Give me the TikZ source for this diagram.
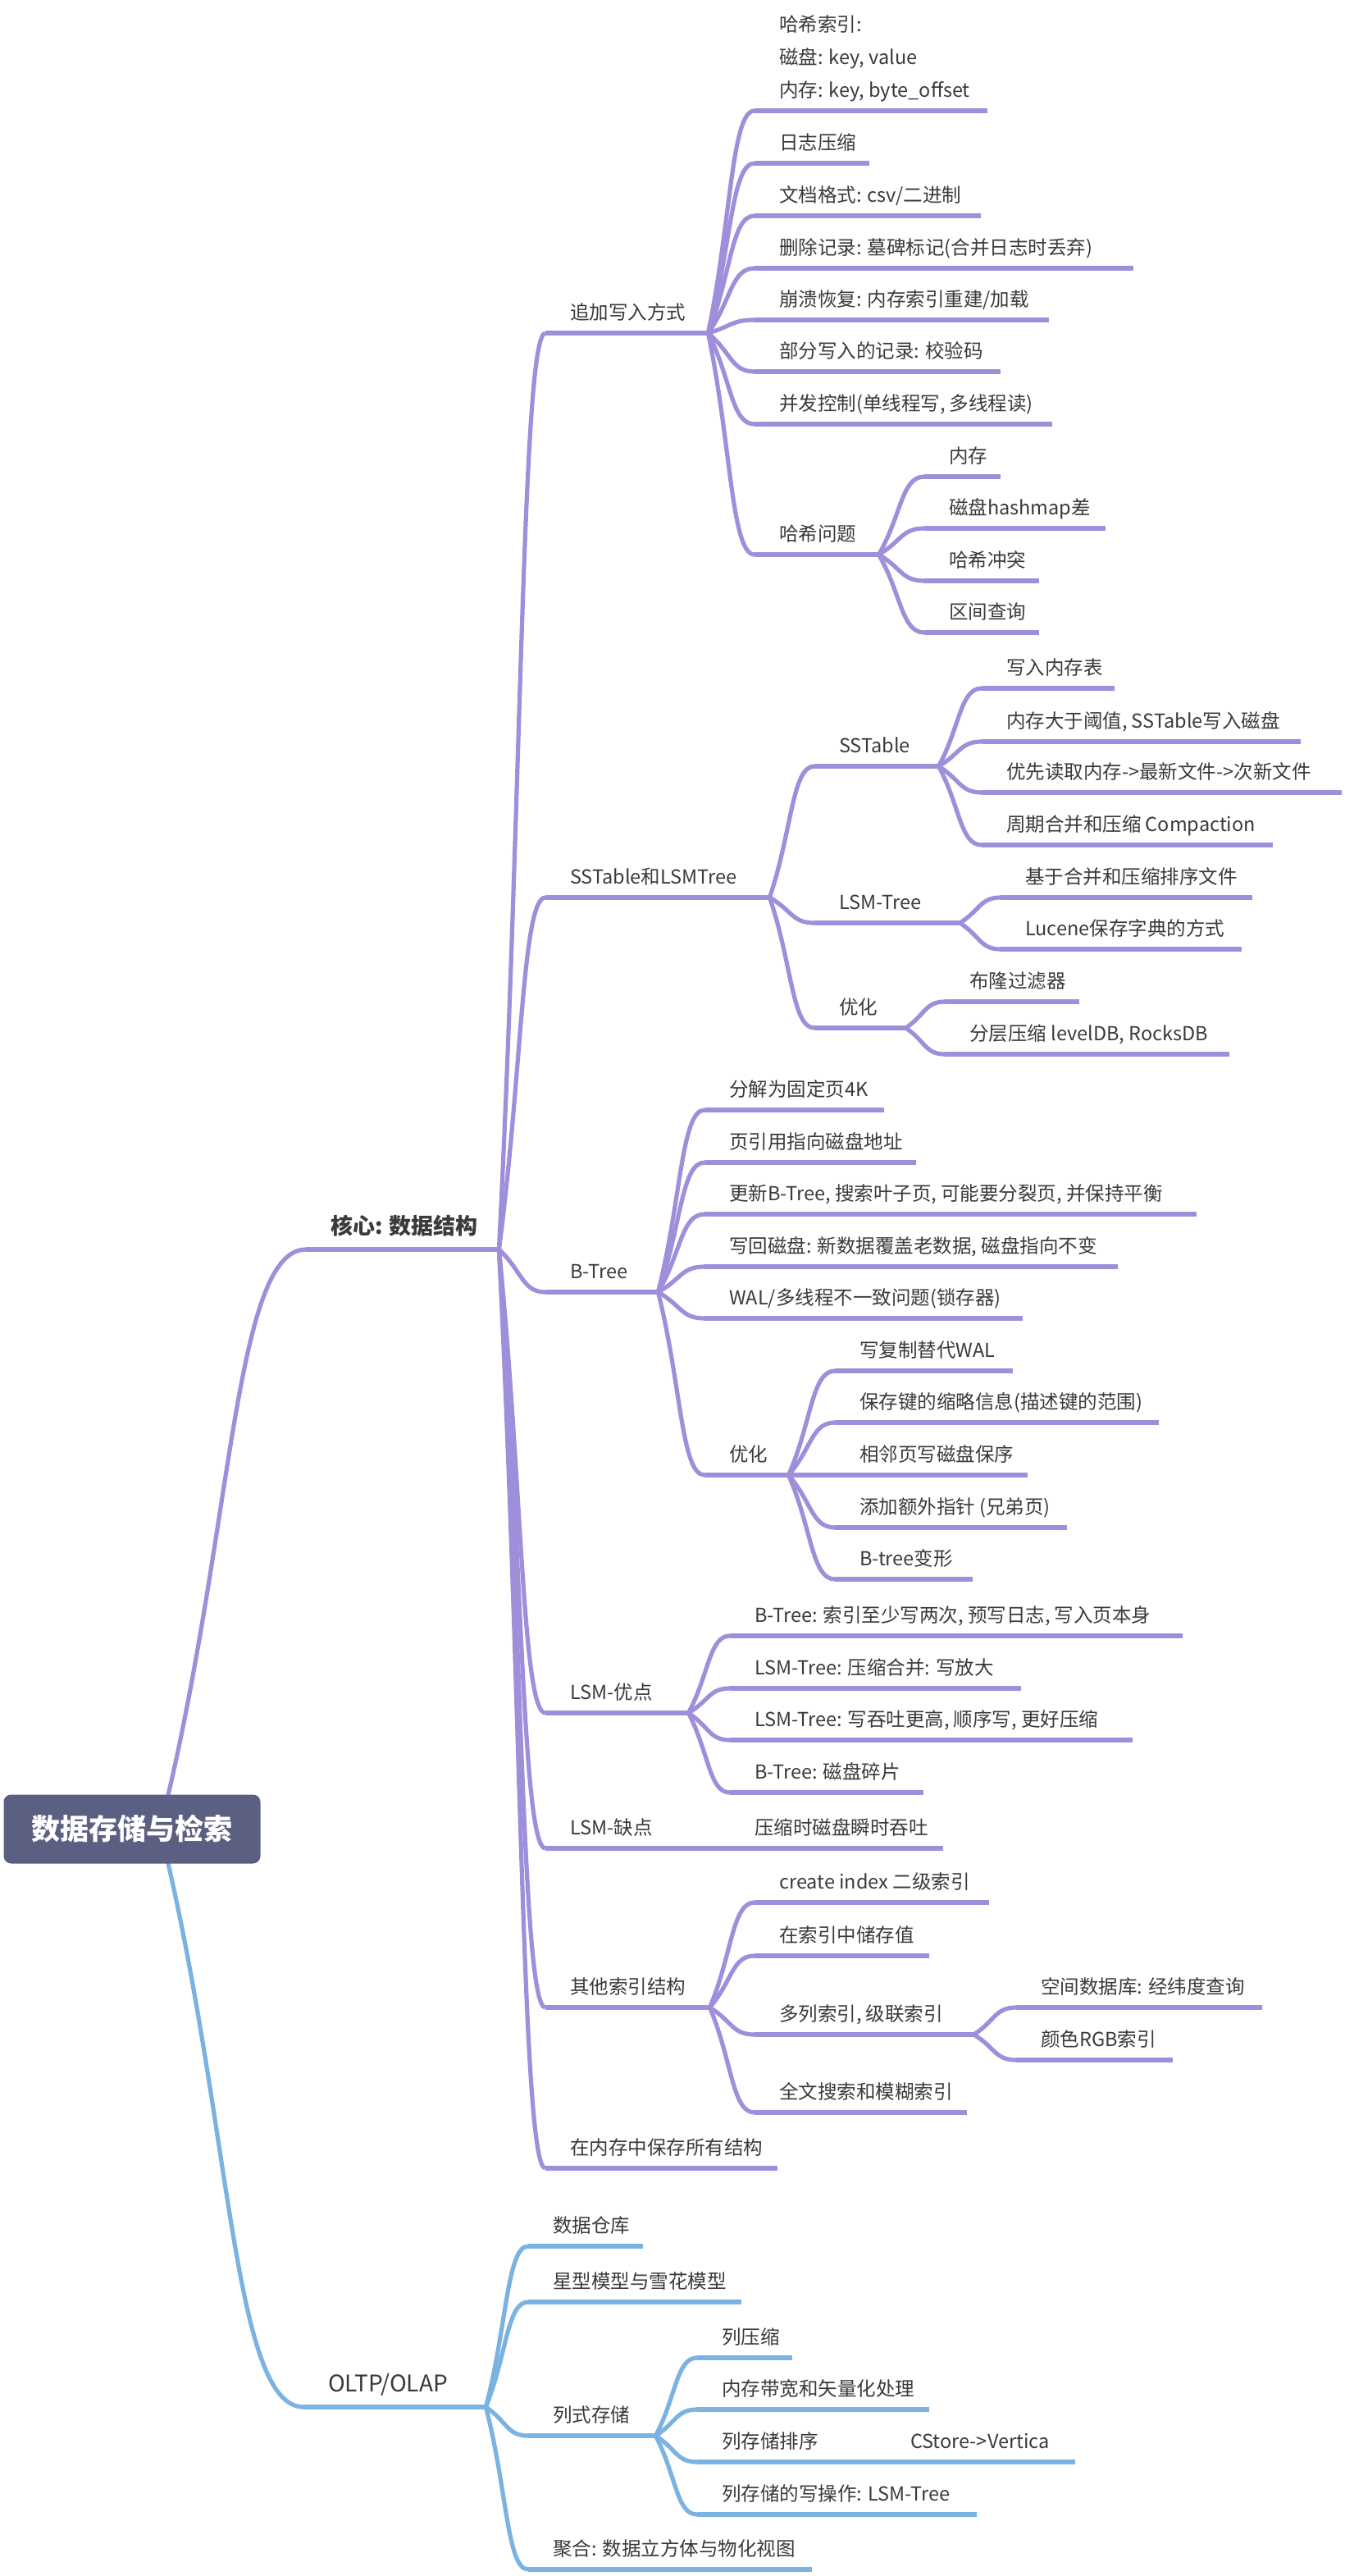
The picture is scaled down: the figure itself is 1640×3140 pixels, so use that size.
\documentclass[tikz,border=0pt]{standalone}
\usepackage{fontspec}
\setmainfont{Noto Sans CJK SC}
\usetikzlibrary{calc}
\definecolor{lp}{RGB}{159,143,219}
\definecolor{lb}{RGB}{122,178,226}
\definecolor{rootc}{RGB}{91,96,130}
\definecolor{txt}{RGB}{58,58,58}
\pgfdeclarelayer{bg}
\pgfsetlayers{bg,main}
\tikzset{
  mn/.style={inner xsep=0pt, inner ysep=10pt, text depth=6pt, anchor=south west,
    font=\fontsize{23.5}{28}\selectfont, text=txt},
  ul/.style={line width=5.2pt},
  pp/.style={draw=lp},
  bb/.style={draw=lb},
  bigb/.style={font=\bfseries\fontsize{27}{32}\selectfont, inner ysep=12pt},
  bign/.style={font=\fontsize{28}{32}\selectfont, inner ysep=12pt},
  rootbox/.style={fill=rootc, rounded corners=9pt, minimum width=313pt, minimum height=84pt,
    inner sep=0pt, text=white, font=\bfseries\fontsize{35}{40}\selectfont}
}
% #1 opts, #2 colour, #3 name, #4 x start, #5 x end, #6 y of underline, #7 text
\newcommand\mn[7][]{%
  \node[mn,#1] (#3) at (#4,#6) {\makebox[\dimexpr #5pt-#4pt\relax][l]{\hspace*{30pt}#7}};%
  \draw[ul,#2] (#3.south west) -- (#3.south east);%
}
\newcommand\lk[3]{%
  \draw[ul,#1] let \p1=(#2.south east), \p2=(#3.south west) in
    (\p1) .. controls ({0.5*\x1+0.5*\x2},{0.5*\y1+0.5*\y2}) and ({0.5*\x1+0.5*\x2},\y2) .. (\p2);%
}
\newcommand\lkr[2]{%
  \draw[ul,#1] let \p1=([xshift=34pt]root.center), \p2=(#2.south west) in
    (\p1) .. controls ({0.5*\x1+0.5*\x2},{0.5*\y1+0.5*\y2}) and ({0.5*\x1+0.5*\x2},\y2) .. (\p2);%
}
\begin{document}
\begin{tikzpicture}[x=1pt,y=-1pt]
\useasboundingbox (0,0) rectangle (1640,3140);
% root
\node[rootbox] (root) at (161,2229.5) {数据存储与检索};
% level 1
\mn[bigb]{pp}{K}{373}{608}{1523}{核心: 数据结构}
\mn[bign]{bb}{T}{370}{592}{2934}{OLTP/OLAP}
% level 2 (purple)
\mn{pp}{A}{665}{863}{406}{追加写入方式}
\mn{pp}{S}{665}{938}{1094}{SSTable和LSMTree}
\mn{pp}{B}{665}{802}{1575}{B-Tree}
\mn{pp}{P}{665}{839}{2088}{LSM-优点}
\mn{pp}{N}{665}{840}{2253}{LSM-缺点}
\mn{pp}{O}{665}{865}{2447}{其他索引结构}
\mn{pp}{M}{665}{948}{2643}{在内存中保存所有结构}
% append
\mn{pp}{A1}{920}{1204}{135}{\fontsize{23.5}{40}\selectfont\begin{tabular}[b]{@{}l@{}}哈希索引:\\磁盘: key, value\\内存: key, byte\_offset\end{tabular}}
\mn{pp}{A2}{920}{1060}{199}{日志压缩}
\mn{pp}{A3}{920}{1196}{263}{文档格式: csv/二进制}
\mn{pp}{A4}{920}{1382}{327}{删除记录: 墓碑标记(合并日志时丢弃)}
\mn{pp}{A5}{920}{1279}{390}{崩溃恢复: 内存索引重建/加载}
\mn{pp}{A6}{920}{1220}{453}{部分写入的记录: 校验码}
\mn{pp}{A7}{920}{1283}{517}{并发控制(单线程写, 多线程读)}
\mn{pp}{A8}{920}{1071}{676}{哈希问题}
\mn{pp}{A81}{1127}{1220}{581}{内存}
\mn{pp}{A82}{1127}{1348}{644}{磁盘hashmap差}
\mn{pp}{A83}{1127}{1267}{708}{哈希冲突}
\mn{pp}{A84}{1127}{1267}{771}{区间查询}
% SSTable
\mn{pp}{S1}{993}{1144}{934}{SSTable}
\mn{pp}{S2}{993}{1170}{1125}{LSM-Tree}
\mn{pp}{S3}{993}{1104}{1253}{优化}
\mn{pp}{S11}{1197}{1359}{839}{写入内存表}
\mn{pp}{S12}{1197}{1586}{904}{内存大于阈值, SSTable写入磁盘}
\mn{pp}{S13}{1197}{1636}{966}{优先读取内存->最新文件->次新文件}
\mn{pp}{S14}{1197}{1552}{1030}{周期合并和压缩 Compaction}
\mn{pp}{S21}{1220}{1527}{1094}{基于合并和压缩排序文件}
\mn{pp}{S22}{1220}{1514}{1157}{Lucene保存字典的方式}
\mn{pp}{S31}{1152}{1316}{1221}{布隆过滤器}
\mn{pp}{S32}{1152}{1499}{1285}{分层压缩 levelDB, RocksDB}
% B-Tree
\mn{pp}{B1}{859}{1078}{1353}{分解为固定页4K}
\mn{pp}{B2}{859}{1117}{1417}{页引用指向磁盘地址}
\mn{pp}{B3}{859}{1459}{1480}{更新B-Tree, 搜索叶子页, 可能要分裂页, 并保持平衡}
\mn{pp}{B4}{859}{1363}{1544}{写回磁盘: 新数据覆盖老数据, 磁盘指向不变}
\mn{pp}{B5}{859}{1247}{1607}{WAL/多线程不一致问题(锁存器)}
\mn{pp}{B6}{859}{961}{1798}{优化}
\mn{pp}{B61}{1018}{1235}{1671}{写复制替代WAL}
\mn{pp}{B62}{1018}{1413}{1734}{保存键的缩略信息(描述键的范围)}
\mn{pp}{B63}{1018}{1253}{1798}{相邻页写磁盘保序}
\mn{pp}{B64}{1018}{1301}{1862}{添加额外指针 (兄弟页)}
\mn{pp}{B65}{1018}{1186}{1925}{B-tree变形}
% LSM
\mn{pp}{P1}{890}{1442}{1994}{B-Tree: 索引至少写两次, 预写日志, 写入页本身}
\mn{pp}{P2}{890}{1245}{2058}{LSM-Tree: 压缩合并: 写放大}
\mn{pp}{P3}{890}{1381}{2121}{LSM-Tree: 写吞吐更高, 顺序写, 更好压缩}
\mn{pp}{P4}{890}{1126}{2185}{B-Tree: 磁盘碎片}
\mn{pp}{N1}{890}{1150}{2253}{压缩时磁盘瞬时吞吐}
% other index
\mn{pp}{O1}{920}{1206}{2319}{create index 二级索引}
\mn{pp}{O2}{920}{1133}{2384}{在索引中储存值}
\mn{pp}{O3}{920}{1187}{2480}{多列索引, 级联索引}
\mn{pp}{O4}{920}{1179}{2575}{全文搜索和模糊索引}
\mn{pp}{O31}{1239}{1539}{2447}{空间数据库: 经纬度查询}
\mn{pp}{O32}{1239}{1430}{2511}{颜色RGB索引}
% OLTP/OLAP
\mn{bb}{T1}{644}{784}{2738}{数据仓库}
\mn{bb}{T2}{644}{904}{2806}{星型模型与雪花模型}
\mn{bb}{T3}{644}{799}{2969}{列式存储}
\mn{bb}{T4}{644}{990}{3132}{聚合: 数据立方体与物化视图}
\mn{bb}{T31}{850}{966}{2874}{列压缩}
\mn{bb}{T32}{850}{1133}{2937}{内存带宽和矢量化处理}
\mn{bb}{T33}{850}{1030}{3001}{列存储排序}
\mn{bb}{T331}{1080}{1311}{3001}{CStore->Vertica}
\mn{bb}{T34}{850}{1191}{3065}{列存储的写操作: LSM-Tree}
% connectors
\begin{pgfonlayer}{bg}
\fill[white] (0,0) rectangle (1640,3140);
\lkr{pp}{K}
\lkr{bb}{T}
\foreach \c in {A,S,B,P,N,O,M} {\lk{pp}{K}{\c}}
\foreach \c in {A1,A2,A3,A4,A5,A6,A7,A8} {\lk{pp}{A}{\c}}
\foreach \c in {A81,A82,A83,A84} {\lk{pp}{A8}{\c}}
\foreach \c in {S1,S2,S3} {\lk{pp}{S}{\c}}
\foreach \c in {S11,S12,S13,S14} {\lk{pp}{S1}{\c}}
\foreach \c in {S21,S22} {\lk{pp}{S2}{\c}}
\foreach \c in {S31,S32} {\lk{pp}{S3}{\c}}
\foreach \c in {B1,B2,B3,B4,B5,B6} {\lk{pp}{B}{\c}}
\foreach \c in {B61,B62,B63,B64,B65} {\lk{pp}{B6}{\c}}
\foreach \c in {P1,P2,P3,P4} {\lk{pp}{P}{\c}}
\lk{pp}{N}{N1}
\foreach \c in {O1,O2,O3,O4} {\lk{pp}{O}{\c}}
\foreach \c in {O31,O32} {\lk{pp}{O3}{\c}}
\foreach \c in {T1,T2,T3,T4} {\lk{bb}{T}{\c}}
\foreach \c in {T31,T32,T33,T34} {\lk{bb}{T3}{\c}}
\lk{bb}{T33}{T331}
\end{pgfonlayer}
\end{tikzpicture}
\end{document}
